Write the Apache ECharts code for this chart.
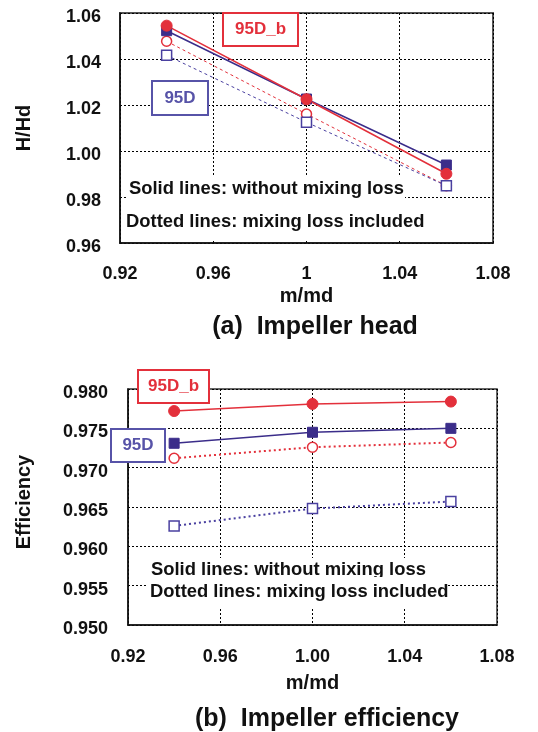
<!DOCTYPE html>
<html>
<head>
<meta charset="utf-8">
<script src="https://cdn.jsdelivr.net/npm/echarts@6/dist/echarts.min.js"></script>
<style>
  html, body { margin: 0; padding: 0; background: #fff; }
  #chart { width: 538px; height: 732px; }
</style>
</head>
<body>
<div id="chart"></div>
<script>
// Mass-flow ratio points shared by both panels
const flowRatio = [0.94, 1.00, 1.06];

// (a) Impeller head, H/Hd
const head95D_solid  = [1.0523, 1.0226, 0.9939];
const head95Db_solid = [1.0545, 1.0225, 0.9901];
const head95Db_mix   = [1.0477, 1.0161, 0.9849];
const head95D_mix    = [1.0416, 1.0125, 0.9849];

// (b) Impeller efficiency
const eff95Db_solid = [0.9772, 0.9781, 0.9784];
const eff95D_solid  = [0.9731, 0.9745, 0.9750];
const eff95Db_mix   = [0.9712, 0.9726, 0.9732];
const eff95D_mix    = [0.9626, 0.9648, 0.9657];

// Tick labels
const headXTicks = ['0.92', '0.96', '1', '1.04', '1.08'];
const headYTicks = ['0.96', '0.98', '1.00', '1.02', '1.04', '1.06'];
const effXTicks  = ['0.92', '0.96', '1.00', '1.04', '1.08'];
const effYTicks  = ['0.950', '0.955', '0.960', '0.965', '0.970', '0.975', '0.980'];

const RED = '#E3303B';
const BLUE = '#3B2D8A';
const BLUE_LABEL = '#5753A8';
const FONT = 'Liberation Sans, Arial, sans-serif';

function pairs(ys) { return flowRatio.map((x, i) => [x, ys[i]]); }
function tickFmt(ticks, min, step) {
  return v => ticks[Math.round((v - min) / step)] ?? '';
}
// y tick labels sit a little below their grid line
function tickFmtLow(ticks, min, step) {
  const f = tickFmt(ticks, min, step);
  return v => '{t|' + f(v) + '}';
}

const tickLabel = { fontFamily: FONT, fontWeight: 'bold', fontSize: 18, color: '#111' };
const lowRich = { t: { fontFamily: FONT, fontWeight: 'bold', fontSize: 18, color: '#111', padding: [8, 0, 0, 0] } };
const splitLine = { show: true, lineStyle: { color: '#000', type: [2, 2], width: 1 } };
const axisLine = { show: true, lineStyle: { color: '#111', width: 1.5 } };
const nameStyle = { fontFamily: FONT, fontWeight: 'bold', fontSize: 20, color: '#111' };
const titleStyle = { fontFamily: FONT, fontWeight: 'bold', fontSize: 25, color: '#111' };

function solid(name, ys, color, symbol, xi) {
  return {
    name, type: 'line', xAxisIndex: xi, yAxisIndex: xi, data: pairs(ys),
    symbol, symbolSize: symbol === 'rect' ? 10 : 11,
    lineStyle: { color, width: 1.5 },
    itemStyle: { color, borderColor: color },
    z: 5
  };
}
function dotted(name, ys, color, symbol, xi, dash, w) {
  return {
    name, type: 'line', xAxisIndex: xi, yAxisIndex: xi, data: pairs(ys),
    symbol, symbolSize: 10,
    lineStyle: { color, width: w, type: dash },
    itemStyle: { color: '#fff', borderColor: color, borderWidth: 1.5 },
    z: 4
  };
}

// Framed series tag: white box with coloured border and bold text
function boxLabel(text, x, y, w, h, color) {
  return [
    { type: 'rect', z: 200, shape: { x, y, width: w, height: h },
      style: { fill: '#fff', stroke: color, lineWidth: 2 } },
    { type: 'text', z: 201, x: x + w / 2, y: y + h / 2,
      style: { text, fill: color, font: 'bold 17px ' + FONT, align: 'center', verticalAlign: 'middle' } }
  ];
}
function note(text, x, y, z) {
  return { type: 'text', x, y, z,
    style: { text, fill: '#111', font: 'bold 18.4px ' + FONT, verticalAlign: 'middle' } };
}
function blank(x, y, w, h, z) {
  return { type: 'rect', z, shape: { x, y, width: w, height: h }, style: { fill: '#fff' } };
}

const chart = echarts.init(document.getElementById('chart'));
chart.setOption({
  animation: false,
  backgroundColor: '#fff',
  title: [
    { text: '(a)  Impeller head', left: 310, top: 310, textAlign: 'center', textStyle: titleStyle },
    { text: '(b)  Impeller efficiency', left: 322, top: 702, textAlign: 'center', textStyle: titleStyle }
  ],
  grid: [
    { left: 120, top: 13, width: 373, height: 230, show: true, borderColor: '#555', borderWidth: 2, backgroundColor: 'transparent' },
    { left: 128, top: 389, width: 369, height: 236, show: true, borderColor: '#333', borderWidth: 1.5, backgroundColor: 'transparent' }
  ],
  xAxis: [
    { type: 'value', gridIndex: 0, min: 0.92, max: 1.08, interval: 0.04,
      name: 'm/md', nameLocation: 'middle', nameGap: 43, nameTextStyle: nameStyle,
      axisLine, axisTick: { show: false }, splitLine,
      axisLabel: { ...tickLabel, margin: 22, formatter: tickFmt(headXTicks, 0.92, 0.04) } },
    { type: 'value', gridIndex: 1, min: 0.92, max: 1.08, interval: 0.04,
      name: 'm/md', nameLocation: 'middle', nameGap: 48, nameTextStyle: nameStyle,
      axisLine, axisTick: { show: false }, splitLine,
      axisLabel: { ...tickLabel, margin: 23, formatter: tickFmt(effXTicks, 0.92, 0.04) } }
  ],
  yAxis: [
    { type: 'value', gridIndex: 0, min: 0.96, max: 1.06, interval: 0.02,
      name: 'H/Hd', nameLocation: 'middle', nameGap: 86, nameRotate: 90, nameTextStyle: nameStyle,
      axisLine, axisTick: { show: false }, splitLine,
      axisLabel: { ...tickLabel, margin: 19, rich: lowRich, formatter: tickFmtLow(headYTicks, 0.96, 0.02) } },
    { type: 'value', gridIndex: 1, min: 0.95, max: 0.98, interval: 0.005,
      name: 'Efficiency', nameLocation: 'middle', nameGap: 94, nameRotate: 90,
      nameTextStyle: { ...nameStyle, padding: [0, 0, 0, 10] },
      axisLine, axisTick: { show: false }, splitLine,
      axisLabel: { ...tickLabel, margin: 20, rich: lowRich, formatter: tickFmtLow(effYTicks, 0.95, 0.005) } }
  ],
  series: [
    dotted('95D_b mixing', head95Db_mix, RED, 'circle', 0, [3, 3], 1),
    dotted('95D mixing', head95D_mix, '#4A40A0', 'rect', 0, [3, 3], 1),
    solid('95D', head95D_solid, BLUE, 'rect', 0),
    solid('95D_b', head95Db_solid, RED, 'circle', 0),

    dotted('95D_b mixing', eff95Db_mix, RED, 'circle', 1, [2, 3], 2),
    dotted('95D mixing', eff95D_mix, '#4A40A0', 'rect', 1, [2, 3], 2),
    solid('95D', eff95D_solid, BLUE, 'rect', 1),
    solid('95D_b', eff95Db_solid, RED, 'circle', 1)
  ],
  graphic: [
    // panel (a) notes
    blank(128, 175, 277, 64, 100),
    note('Solid lines: without mixing loss', 129, 189, 101),
    note('Dotted lines: mixing loss included', 126, 222, 101),
    ...boxLabel('95D_b', 223, 13, 75, 33, RED),
    ...boxLabel('95D', 152, 81, 56, 34, BLUE_LABEL),

    // panel (b) notes
    blank(152, 558, 296, 49, 100),
    note('Solid lines: without mixing loss', 151, 570, 101),
    blank(148, 577, 300, 24, 102),
    note('Dotted lines: mixing loss included', 150, 592, 103),
    ...boxLabel('95D_b', 138, 370, 71, 33, RED),
    ...boxLabel('95D', 111, 429, 54, 33, BLUE_LABEL)
  ]
});
</script>
</body>
</html>
